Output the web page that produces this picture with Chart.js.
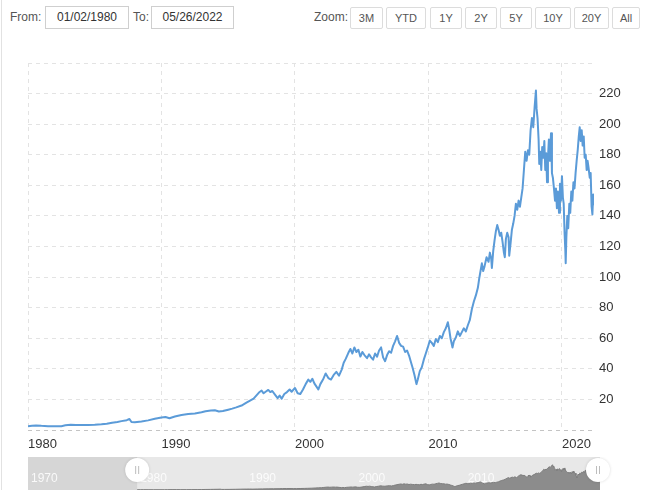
<!DOCTYPE html>
<html>
<head>
<meta charset="utf-8">
<script src="https://cdn.jsdelivr.net/npm/chart.js@4.4.0/dist/chart.umd.min.js"></script>
<style>
  html, body { margin: 0; padding: 0; background: #fff; }
  body { width: 650px; height: 490px; position: relative; overflow: hidden;
         font-family: "Liberation Sans", Arial, sans-serif; }
  .edge { position: absolute; left: 1px; top: 0; width: 1px; height: 490px; background: #e2e2e2; }
  .lbl { position: absolute; top: 10px; font-size: 12px; color: #555; }
  .box { position: absolute; top: 6px; height: 21px; border: 1px solid #cfcfcf; font-size: 12px;
         color: #333; line-height: 21px; text-align: center; }
  .btn { position: absolute; top: 7px; height: 20px; border: 1px solid #dcdcdc; border-radius: 2px;
         font-size: 11px; color: #555; line-height: 20px; text-align: center; background: #fff; }
  #main { position: absolute; left: 0; top: 40px; }
  #nav { position: absolute; left: 0; top: 457px; }
</style>
</head>
<body>
<div class="edge"></div>
<div class="lbl" style="left:10px">From:</div>
<div class="box" style="left:45px;width:82px">01/02/1980</div>
<div class="lbl" style="left:133px">To:</div>
<div class="box" style="left:151px;width:81px">05/26/2022</div>
<div class="lbl" style="left:314px">Zoom:</div>
<div class="btn" style="left:350px;width:31px">3M</div>
<div class="btn" style="left:386px;width:38px">YTD</div>
<div class="btn" style="left:430px;width:30px">1Y</div>
<div class="btn" style="left:465px;width:30px">2Y</div>
<div class="btn" style="left:500px;width:30px">5Y</div>
<div class="btn" style="left:535px;width:34px">10Y</div>
<div class="btn" style="left:574px;width:33px">20Y</div>
<div class="btn" style="left:612px;width:26px">All</div>

<canvas id="main" width="650" height="415"></canvas>
<canvas id="nav" width="650" height="33"></canvas>

<script>
// fechas (año decimal) y precio de cierre
const fechas = [
  1980.0, 1980.3, 1980.6, 1981.0, 1981.5, 1982.0, 1982.5, 1982.8, 1983.2, 1983.6,
  1984.0, 1984.5, 1985.0, 1985.5, 1985.9, 1986.3, 1986.7, 1987.0, 1987.4, 1987.6,
  1987.75, 1988.0, 1988.5, 1989.0, 1989.5, 1990.0, 1990.3, 1990.6, 1991.0, 1991.5,
  1992.0, 1992.5, 1993.0, 1993.3, 1993.7, 1994.0, 1994.3, 1994.6, 1995.0, 1995.3,
  1995.6, 1996.0, 1996.3, 1996.6, 1996.9, 1997.1, 1997.3, 1997.5, 1997.65, 1997.8,
  1998.0, 1998.15, 1998.3, 1998.5, 1998.7, 1998.85, 1999.0, 1999.2, 1999.4, 1999.6,
  1999.75, 2000.0, 2000.2, 2000.4, 2000.6, 2000.8, 2001.0, 2001.15, 2001.3, 2001.45,
  2001.6, 2001.75, 2001.9, 2002.1, 2002.3, 2002.5, 2002.7, 2002.9, 2003.1, 2003.3,
  2003.5, 2003.65, 2003.8, 2004.0, 2004.15, 2004.3, 2004.45, 2004.6, 2004.75, 2004.9,
  2005.05, 2005.2, 2005.4, 2005.55, 2005.7, 2005.85, 2006.0, 2006.15, 2006.3, 2006.45,
  2006.6, 2006.75, 2006.9, 2007.05, 2007.2, 2007.35, 2007.5, 2007.65, 2007.8, 2007.95,
  2008.1, 2008.25, 2008.4, 2008.55, 2008.7, 2008.8, 2008.95, 2009.1, 2009.2, 2009.35,
  2009.5, 2009.65, 2009.8, 2009.95, 2010.1, 2010.25, 2010.4, 2010.55, 2010.7, 2010.85,
  2011.0, 2011.15, 2011.3, 2011.45, 2011.55, 2011.65, 2011.8, 2011.9, 2012.05, 2012.2,
  2012.35, 2012.5, 2012.65, 2012.8, 2012.95, 2013.1, 2013.25, 2013.4, 2013.55, 2013.7,
  2013.8, 2013.9, 2014.0, 2014.1, 2014.2, 2014.35, 2014.5, 2014.6, 2014.7, 2014.75,
  2014.85, 2014.95, 2015.05, 2015.15, 2015.25, 2015.35, 2015.45, 2015.55, 2015.65, 2015.72,
  2015.8, 2015.9, 2016.0, 2016.05, 2016.15, 2016.25, 2016.35, 2016.45, 2016.55, 2016.65,
  2016.75, 2016.85, 2016.95, 2017.05, 2017.15, 2017.25, 2017.35, 2017.45, 2017.55, 2017.65,
  2017.75, 2017.85, 2017.95, 2018.05, 2018.1, 2018.17, 2018.25, 2018.3, 2018.38, 2018.45,
  2018.52, 2018.6, 2018.68, 2018.75, 2018.82, 2018.88, 2018.95, 2019.02, 2019.1, 2019.18,
  2019.25, 2019.32, 2019.4, 2019.48, 2019.55, 2019.62, 2019.7, 2019.78, 2019.85, 2019.92,
  2020.0, 2020.07, 2020.13, 2020.2, 2020.25, 2020.28, 2020.33, 2020.4, 2020.47, 2020.55,
  2020.62, 2020.7, 2020.78, 2020.86, 2020.94, 2021.02, 2021.1, 2021.18, 2021.26, 2021.33,
  2021.4, 2021.48, 2021.55, 2021.63, 2021.7, 2021.78, 2021.85, 2021.92, 2022.0, 2022.08,
  2022.15, 2022.22, 2022.28, 2022.34, 2022.4
];
const precios = [
  2.4, 2.8, 3.0, 2.7, 2.5, 2.4, 2.5, 3.1, 3.4, 3.3,
  3.2, 3.2, 3.4, 3.7, 4.1, 4.8, 5.2, 5.8, 6.4, 7.2,
  5.2, 5.1, 5.6, 6.3, 7.4, 8.2, 8.5, 7.7, 8.8, 9.8,
  10.4, 10.8, 11.6, 12.3, 12.8, 12.9, 12.1, 12.4, 13.3, 14.0,
  14.8, 16.0, 17.5, 19.0, 20.5, 22.5, 24.5, 25.8, 24.0, 25.0,
  26.2, 24.8, 25.5, 23.2, 20.8, 22.5, 20.5, 23.5, 24.8, 26.5,
  25.0, 27.5, 24.0, 23.5, 26.5, 30.0, 33.0, 31.5, 33.5, 30.5,
  28.5, 26.5, 30.0, 33.0, 37.0, 34.0, 33.0, 36.0, 38.0, 35.5,
  39.5, 44.0, 46.5, 50.5, 53.0, 50.0, 54.0, 51.0, 52.5, 48.0,
  51.0, 49.0, 47.0, 49.5, 47.5, 46.0, 50.0, 48.0, 52.0, 54.0,
  47.5, 45.0, 49.0, 51.5, 50.5, 55.0, 58.0, 61.5, 57.0, 55.0,
  54.5, 51.0, 52.0, 48.5, 44.0, 41.0, 36.0, 30.0, 33.0, 38.5,
  41.0, 46.0, 50.0, 54.0, 58.5, 57.0, 55.0, 59.5, 57.5, 61.5,
  60.0, 64.0, 66.5, 70.5, 66.0, 60.0, 54.0, 58.0, 60.5, 64.5,
  61.5, 64.0, 66.5, 64.5, 68.5, 72.0, 79.0, 84.0, 88.0, 93.0,
  99.0, 104.0, 109.0, 104.0, 107.0, 113.0, 110.0, 116.0, 112.0, 106.0,
  117.0, 124.0, 130.0, 134.0, 131.0, 127.0, 129.0, 123.0, 116.0, 113.0,
  125.0, 129.0, 126.0, 114.0, 122.0, 131.0, 135.0, 140.0, 148.0, 144.0,
  150.0, 146.0, 152.0, 158.0, 170.0, 182.0, 176.0, 183.0, 180.0, 196.0,
  204.0, 198.0, 211.0, 222.0, 210.0, 204.0, 190.0, 174.0, 182.0, 170.0,
  185.0, 178.0, 189.0, 170.0, 181.0, 162.0, 178.0, 190.0, 176.0, 194.0,
  168.0, 165.0, 158.0, 150.0, 158.0, 145.0, 156.0, 142.0, 161.0, 150.0,
  166.0, 152.0, 148.0, 128.0, 118.0, 109.0, 126.0, 140.0, 132.0, 148.0,
  142.0, 156.0, 150.0, 162.0, 158.0, 168.0, 176.0, 183.0, 192.0, 198.0,
  189.0, 196.0, 186.0, 192.0, 178.0, 180.0, 170.0, 176.0, 171.0, 165.0,
  168.0, 146.0, 141.0, 154.0, 147.0
];
const anios = [1980, 1990, 2000, 2010, 2020];
const aniosNav = [1970, 1980, 1990, 2000, 2010, 2020];

const puntos = fechas.map((f, i) => ({ x: f, y: precios[i] }));

// Gráfico principal
new Chart(document.getElementById('main'), {
    type: 'line',
    data: {
        datasets: [{
            data: puntos,
            borderColor: '#5b9bd8',
            borderWidth: 2,
            borderJoinStyle: 'round',
            pointRadius: 0,
            tension: 0,
            fill: false
        }]
    },
    options: {
        responsive: false,
        animation: false,
        layout: { padding: { left: 28, top: 23, right: 0, bottom: 0 } },
        plugins: { legend: { display: false }, tooltip: { enabled: false } },
        scales: {
            x: {
                type: 'linear',
                min: 1980,
                max: 2022.4,
                afterBuildTicks: function(scale) {
                    scale.ticks = anios.map(v => ({ value: v }));
                },
                afterFit: function(scale) { scale.height = 25; },
                grid: { color: '#e3e3e3', drawTicks: false },
                border: { display: false, dash: [4, 4] },
                ticks: {
                    align: 'start',
                    padding: 7,
                    color: '#333',
                    font: { size: 13, family: 'Liberation Sans, Arial, sans-serif' },
                    callback: v => String(v)
                }
            },
            y: {
                position: 'right',
                min: 0,
                max: 240,
                afterFit: function(scale) { scale.width = 56; },
                grid: {
                    drawTicks: false,
                    color: ctx => ctx.tick && ctx.tick.value === 0 ? '#c4c4c4' : '#e3e3e3'
                },
                border: { display: false, dash: [4, 4] },
                ticks: {
                    stepSize: 20,
                    padding: 5,
                    color: '#333',
                    font: { size: 13, family: 'Liberation Sans, Arial, sans-serif' },
                    callback: v => (v === 0 || v === 240) ? '' : v
                }
            }
        }
    }
});

// Navegador inferior
const navPlugin = {
    id: 'navFondo',
    beforeDatasetsDraw(chart) {
        const { ctx, chartArea: a, scales: { x } } = chart;
        const x80 = x.getPixelForValue(1980);
        ctx.save();
        ctx.fillStyle = '#e8e8e8';
        ctx.fillRect(a.left, a.top, a.right - a.left, a.bottom - a.top);
        ctx.fillStyle = '#d6d6d6';
        ctx.fillRect(a.left, a.top, x80 - a.left, a.bottom - a.top);
        ctx.fillStyle = 'rgba(255,255,255,0.85)';
        ctx.font = '12px "Liberation Sans", Arial, sans-serif';
        ctx.textBaseline = 'middle';
        aniosNav.forEach(v => {
            ctx.fillText(String(v), x.getPixelForValue(v) + 3, 22);
        });
        ctx.restore();
    },
    afterDraw(chart) {
        const { ctx, scales: { x } } = chart;
        [x.getPixelForValue(1980), x.getPixelForValue(2022.4) - 2].forEach(px => {
            ctx.save();
            ctx.beginPath();
            ctx.arc(px, 13, 12, 0, Math.PI * 2);
            ctx.fillStyle = '#ffffff';
            ctx.shadowColor = 'rgba(0,0,0,0.15)';
            ctx.shadowBlur = 3;
            ctx.fill();
            ctx.shadowBlur = 0;
            ctx.strokeStyle = '#bdbdbd';
            ctx.lineWidth = 1;
            ctx.beginPath();
            ctx.moveTo(px - 1.5, 9); ctx.lineTo(px - 1.5, 17);
            ctx.moveTo(px + 1.5, 9); ctx.lineTo(px + 1.5, 17);
            ctx.stroke();
            ctx.restore();
        });
    }
};

new Chart(document.getElementById('nav'), {
    type: 'line',
    data: {
        datasets: [{
            data: puntos,
            borderColor: '#7d7d7d',
            borderWidth: 1,
            backgroundColor: '#8c8c8c',
            pointRadius: 0,
            fill: 'origin'
        }]
    },
    options: {
        responsive: false,
        animation: false,
        layout: { padding: { left: 28, right: 50, top: 0, bottom: 0 } },
        plugins: { legend: { display: false }, tooltip: { enabled: false } },
        scales: {
            x: { type: 'linear', min: 1970, max: 2022.4, display: false },
            y: { min: 0, max: 290, display: false }
        }
    },
    plugins: [navPlugin]
});
</script>
</body>
</html>
